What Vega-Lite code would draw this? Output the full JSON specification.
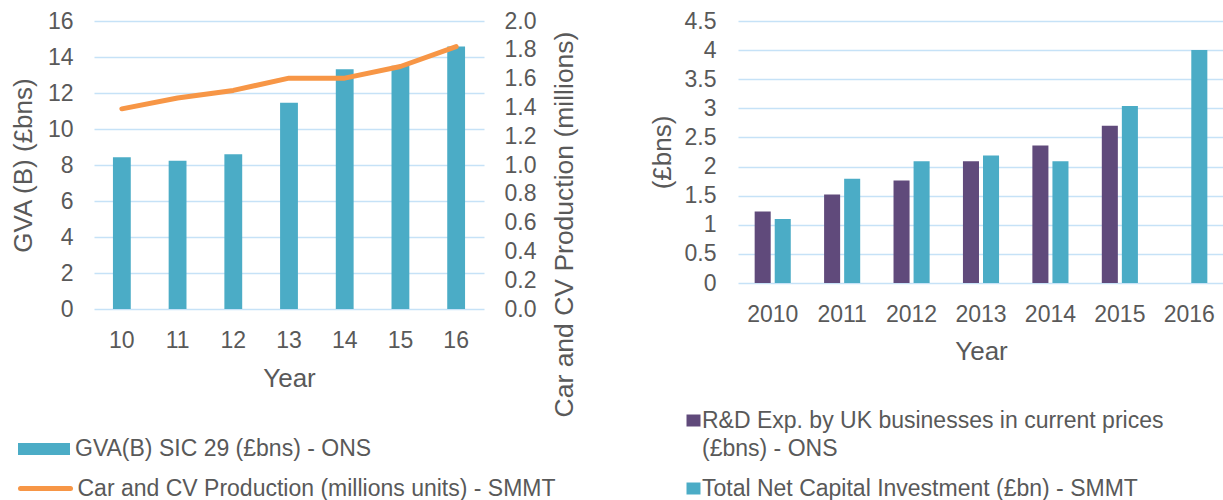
{
  "$schema": "https://vega.github.io/schema/vega-lite/v6.json",
  "padding": {"left": 10, "top": 10, "right": 0, "bottom": 0},
  "background": "white",
  "spacing": 71,
  "config": {
    "view": {"stroke": null},
    "font": "Liberation Sans",
    "axis": {
      "labelFont": "Liberation Sans", "labelFontSize": 23, "labelColor": "#595959",
      "titleFont": "Liberation Sans", "titleFontSize": 26, "titleFontWeight": "normal", "titleColor": "#595959",
      "domain": false, "ticks": false, "grid": false, "gridColor": "#c6e2f7", "gridWidth": 1.5
    },
    "legend": {
      "labelFont": "Liberation Sans", "labelFontSize": 23, "labelColor": "#595959",
      "padding": 0, "labelLimit": 700, "orient": "none", "title": null
    }
  },
  "resolve": {
    "scale": {"x": "independent", "y": "independent", "fill": "independent", "stroke": "independent", "color": "independent"},
    "legend": {"fill": "independent", "stroke": "independent", "color": "independent"}
  },
  "hconcat": [
    {
      "width": 390,
      "height": 288,
      "data": {"values": [
        {"year": "10", "gva": 8.43, "production": 1.39},
        {"year": "11", "gva": 8.23, "production": 1.465},
        {"year": "12", "gva": 8.6, "production": 1.518},
        {"year": "13", "gva": 11.46, "production": 1.603},
        {"year": "14", "gva": 13.32, "production": 1.603},
        {"year": "15", "gva": 13.52, "production": 1.684},
        {"year": "16", "gva": 14.58, "production": 1.822}
      ]},
      "layer": [
        {
          "mark": {"type": "bar"},
          "encoding": {
            "x": {"field": "year", "type": "ordinal", "scale": {"paddingInner": 0.68, "paddingOuter": 0.34},
                  "axis": {"title": "Year", "labelAngle": 0, "labelPadding": 20, "titlePadding": 13}},
            "y": {"field": "gva", "type": "quantitative", "scale": {"domain": [0, 16]},
                  "axis": {"title": "GVA (B) (£bns)", "values": [0, 2, 4, 6, 8, 10, 12, 14, 16], "format": "d", "grid": true, "labelPadding": 21, "titlePadding": 11}},
            "fill": {"datum": "GVA(B) SIC 29 (£bns) - ONS", "type": "nominal", "scale": {"range": ["#4bacc6"]},
                     "legend": {"orient": "none", "legendX": -77, "legendY": 401, "symbolType": "M-1,-0.23H1V0.23H-1Z", "symbolSize": 2704, "labelOffset": 4}}
          }
        },
        {
          "mark": {"type": "line", "strokeWidth": 5, "strokeCap": "round", "strokeJoin": "round"},
          "encoding": {
            "x": {"field": "year", "type": "ordinal"},
            "y": {"field": "production", "type": "quantitative", "scale": {"domain": [0, 2]},
                  "axis": {"orient": "right", "title": "Car and CV Production (millions)", "values": [0, 0.2, 0.4, 0.6, 0.8, 1.0, 1.2, 1.4, 1.6, 1.8, 2.0], "format": ".1f", "labelPadding": 20,
                           "titleFontSize": 26.5, "titleAngle": 270, "titleX": 80, "titleY": 203, "titleAlign": "center", "titleBaseline": "middle"}},
            "stroke": {"datum": "Car and CV Production (millions units) - SMMT", "type": "nominal", "scale": {"range": ["#f79646"]},
                       "legend": {"orient": "none", "legendX": -76, "legendY": 440, "symbolType": "stroke", "symbolSize": 2500, "symbolStrokeWidth": 5, "labelOffset": 4.5,
                                  "encode": {"symbols": {"update": {"strokeCap": {"value": "round"}}}}}}
          }
        }
      ],
      "resolve": {"scale": {"y": "independent"}}
    },
    {
      "width": 486,
      "height": 262,
      "data": {"values": [
        {"year": "2010", "series": "R&D Exp. by UK businesses in current prices (£bns) - ONS", "value": 1.23},
        {"year": "2011", "series": "R&D Exp. by UK businesses in current prices (£bns) - ONS", "value": 1.52},
        {"year": "2012", "series": "R&D Exp. by UK businesses in current prices (£bns) - ONS", "value": 1.76},
        {"year": "2013", "series": "R&D Exp. by UK businesses in current prices (£bns) - ONS", "value": 2.09},
        {"year": "2014", "series": "R&D Exp. by UK businesses in current prices (£bns) - ONS", "value": 2.36},
        {"year": "2015", "series": "R&D Exp. by UK businesses in current prices (£bns) - ONS", "value": 2.7},
        {"year": "2010", "series": "Total Net Capital Investment (£bn) - SMMT", "value": 1.1},
        {"year": "2011", "series": "Total Net Capital Investment (£bn) - SMMT", "value": 1.79},
        {"year": "2012", "series": "Total Net Capital Investment (£bn) - SMMT", "value": 2.09},
        {"year": "2013", "series": "Total Net Capital Investment (£bn) - SMMT", "value": 2.19},
        {"year": "2014", "series": "Total Net Capital Investment (£bn) - SMMT", "value": 2.09},
        {"year": "2015", "series": "Total Net Capital Investment (£bn) - SMMT", "value": 3.04},
        {"year": "2016", "series": "Total Net Capital Investment (£bn) - SMMT", "value": 4.0}
      ]},
      "encoding": {
        "x": {"field": "year", "type": "ordinal", "scale": {"domain": ["2010", "2011", "2012", "2013", "2014", "2015", "2016"], "paddingInner": 0.48, "paddingOuter": 0.24},
              "axis": {"title": "Year", "labelAngle": 0, "labelPadding": 20, "titlePadding": 12}},
        "xOffset": {"field": "series", "type": "nominal", "scale": {"domain": ["R&D Exp. by UK businesses in current prices (£bns) - ONS", "Total Net Capital Investment (£bn) - SMMT"], "paddingInner": 0.2}},
        "y": {"field": "value", "type": "quantitative", "scale": {"domain": [0, 4.5]},
              "axis": {"title": "(£bns)", "values": [0, 0.5, 1, 1.5, 2, 2.5, 3, 3.5, 4, 4.5], "format": "~g", "grid": true, "labelPadding": 22, "titlePadding": 9}}
      },
      "layer": [
        {
          "transform": [{"filter": "datum.series === 'R&D Exp. by UK businesses in current prices (£bns) - ONS'"}],
          "mark": {"type": "bar"},
          "encoding": {
            "fill": {"field": "series", "type": "nominal", "scale": {"range": ["#604a7b"]},
                     "legend": {"orient": "none", "legendX": -56, "legendY": 388, "symbolType": "M-1,-0.857H1V0.857H-1Z", "symbolSize": 196, "labelOffset": -3,
                                "labelExpr": "[slice(datum.label, 0, 43), slice(datum.label, 44)]",
                                "encode": {"labels": {"update": {"lineHeight": {"value": 28}}}}}}
          }
        },
        {
          "transform": [{"filter": "datum.series === 'Total Net Capital Investment (£bn) - SMMT'"}],
          "mark": {"type": "bar"},
          "encoding": {
            "color": {"field": "series", "type": "nominal", "scale": {"range": ["#4bacc6"]},
                      "legend": {"orient": "none", "legendX": -56, "legendY": 456, "symbolType": "M-1,-0.857H1V0.857H-1Z", "symbolSize": 196, "labelOffset": -3}}
          }
        }
      ]
    }
  ]
}
